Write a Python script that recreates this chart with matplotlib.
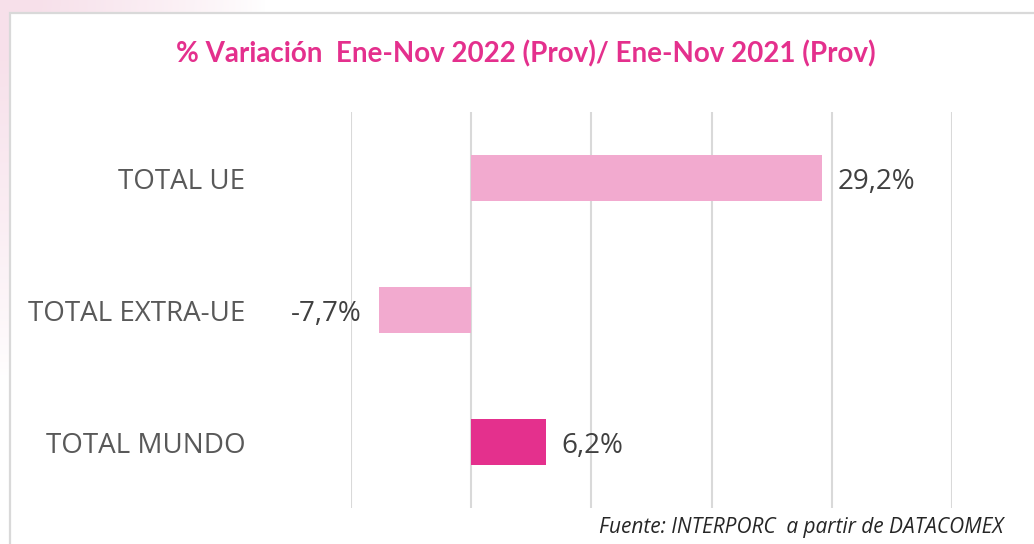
import numpy as np
import matplotlib
matplotlib.use("Agg")
import matplotlib.pyplot as plt
from matplotlib.patches import Rectangle

# Data
categories = ["TOTAL UE", "TOTAL EXTRA-UE", "TOTAL MUNDO"]
variation = [29.2, -7.7, 6.2]
bar_colors = ["#F2AACF", "#F2AACF", "#E4308D"]
value_labels = ["29,2%", "-7,7%", "6,2%"]
title = "% Variación  Ene-Nov 2022 (Prov)/ Ene-Nov 2021 (Prov)"
source = "Fuente: INTERPORC  a partir de DATACOMEX"

W, H = 1034, 544
fig = plt.figure(figsize=(W / 100, H / 100), dpi=100)
fig.patch.set_facecolor("white")

# Soft pink slide background fading from the top-left corner
bg = fig.add_axes([0, 0, 1, 1], zorder=-5)
bg.set_xlim(0, W)
bg.set_ylim(H, 0)
bg.axis("off")
yy, xx = np.mgrid[0:H, 0:W]
d = np.sqrt((xx / 230.0) ** 2 + (yy / 330.0) ** 2)
alpha = np.clip(1.15 - d, 0, 1) ** 0.8
rgba = np.zeros((H, W, 4))
rgba[..., 0] = 0.97
rgba[..., 1] = 0.88
rgba[..., 2] = 0.92
rgba[..., 3] = alpha
bg.imshow(rgba, extent=(0, W, H, 0), interpolation="bilinear", aspect="auto")
# White chart box with light grey border
bg.add_patch(Rectangle((10, 13), W, H, facecolor="white", edgecolor="#D9D9D9", linewidth=1.6))

# Plot area
x0, x1 = 351, 952
y_top, y_bot = 112, 508
ax = fig.add_axes([x0 / W, 1 - y_bot / H, (x1 - x0) / W, (y_bot - y_top) / H])
ax.set_facecolor("none")
ax.set_xlim(-10, 40)
ax.set_ylim(2.5, -0.5)
ax.set_xticks(np.arange(-10, 41, 10))
ax.xaxis.grid(True, color="#D9D9D9", linewidth=1.5)
ax.set_axisbelow(True)
ax.tick_params(axis="both", length=0, labelbottom=False, labelleft=False)
for s in ax.spines.values():
    s.set_visible(False)

ypos = np.arange(len(categories))
ax.barh(ypos, variation, height=0.35, color=bar_colors, zorder=3)

label_font = "Open Sans"
for y, v, lab in zip(ypos, variation, value_labels):
    if v >= 0:
        ax.annotate(lab, (v, y), xytext=(11, 0), textcoords="offset points",
                    ha="left", va="center_baseline", fontsize=20, color="#404040",
                    family=label_font)
    else:
        ax.annotate(lab, (v, y), xytext=(-12, 0), textcoords="offset points",
                    ha="right", va="center_baseline", fontsize=20, color="#404040",
                    family=label_font)

# Category labels, right-aligned left of the plot area
for y, cat in zip(ypos, categories):
    ax.annotate(cat, (-10, y), xytext=(-76, 0), textcoords="offset points",
                ha="right", va="center_baseline", fontsize=20, color="#595959",
                family=label_font, annotation_clip=False)

fig.text(526 / W, 1 - 51 / H, title, ha="center", va="center_baseline",
         fontsize=20, fontweight="bold", color="#E4308D", family="Lato")
fig.text(1003 / W, 1 - 527 / H, source, ha="right", va="center",
         fontsize=15, style="italic", color="#262626", family="Open Sans")

fig.savefig("out.png", dpi=100)
